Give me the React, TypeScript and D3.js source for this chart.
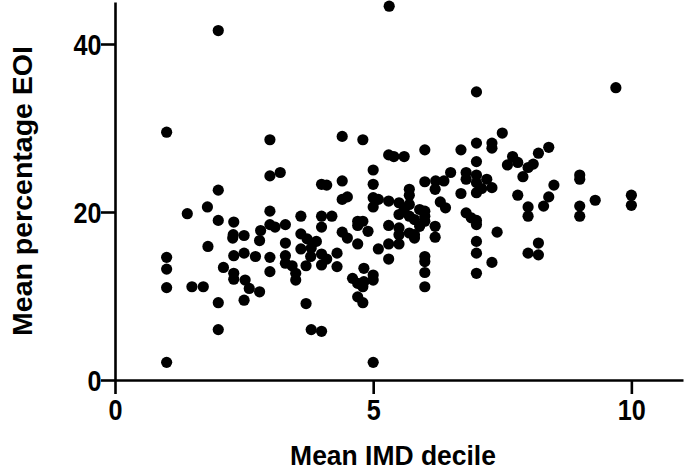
import { useEffect, useRef } from "react";
import * as d3 from "d3";

// mean IMD decile (x) and mean percentage EOI (y)
const imdDecile = [
  1.0, 1.0, 1.0, 1.0, 1.0,
  1.4, 1.49, 1.71, 1.79, 1.8,
  2.0, 2.0, 2.0, 2.0, 2.0, 2.1,
  2.3, 2.29, 2.28, 2.5, 2.3, 2.5, 2.72, 2.3, 2.3, 2.52, 2.6, 2.8, 2.5,
  2.82, 2.8, 3.0, 3.0, 3.2, 3.0, 3.0, 3.1, 3.3, 3.0, 3.0, 3.3, 3.3, 3.3, 3.43, 3.5, 3.5,
  3.6, 3.6, 3.6, 3.72, 3.9, 3.8, 3.79, 3.7, 3.7, 3.8,
  4.0, 4.1, 4.0, 4.2, 4.0, 4.0, 4.1, 4.0, 4.3, 4.3, 4.0,
  4.4, 4.8, 4.4, 4.4, 4.5, 4.7, 4.8, 4.7, 4.4, 4.5, 4.7, 4.9, 4.6, 4.7, 4.82, 4.8, 4.7, 4.8, 4.82,
  5.31, 5.0, 5.0, 5.0, 5.0, 5.0, 5.0, 5.0, 5.1, 5.1,
  5.3, 5.4, 5.6, 5.3, 5.5, 5.3, 5.5, 5.5, 5.5, 5.6, 5.3, 5.5, 5.3,
  5.7, 5.7, 5.7, 5.7, 5.7, 5.8, 5.8, 5.9, 5.8, 5.9,
  6.0, 6.0, 6.0, 6.0, 6.0, 6.0, 6.0, 6.0, 6.0,
  6.21, 6.37, 6.2, 6.5, 6.3, 6.4, 6.2, 6.2,
  6.7, 7.0, 7.0, 7.0, 6.8, 6.8, 7.0, 7.0, 7.0, 6.7, 7.1, 6.8, 6.9, 7.0, 7.0, 7.0, 7.0, 7.0,
  7.3, 7.3, 7.5, 7.2, 7.3, 7.4, 7.3,
  7.7, 7.8, 7.6, 8.1, 8.0, 7.9, 7.8, 8.0, 8.0, 8.0,
  8.2, 8.4, 8.5, 8.4, 8.3, 8.2, 8.2,
  9.0, 9.0, 9.0, 9.0, 9.3, 9.7,
  10.0, 10.0,
];

const eoiPercent = [
  29.5, 14.6, 13.2, 11.0, 2.1,
  19.8, 11.1, 11.1, 20.6, 15.9,
  41.6, 22.6, 19.0, 9.2, 6.0, 13.4,
  18.8, 17.3, 16.9, 17.2, 14.8, 15.1, 14.7, 12.7, 12.0, 11.9, 10.9, 10.5, 9.5,
  17.8, 16.6, 28.6, 24.3, 24.7, 20.1, 18.5, 18.2, 18.5, 14.6, 12.9, 16.3, 14.8, 13.9, 13.6, 12.7, 11.9,
  19.5, 17.4, 15.6, 16.8, 16.5, 15.7, 14.7, 13.6, 9.1, 6.0,
  23.3, 23.2, 19.5, 19.5, 18.2, 15.0, 14.4, 13.7, 15.1, 13.5, 5.8,
  29.0, 28.6, 23.7, 21.5, 21.8, 18.9, 18.9, 18.4, 17.6, 16.9, 16.2, 17.7, 12.1, 11.5, 11.7, 11.1, 9.9, 9.2, 13.3,
  44.5, 25.0, 23.3, 21.7, 20.6, 12.5, 11.9, 2.1, 15.6, 21.5,
  26.8, 26.6, 26.6, 21.3, 21.1, 18.4, 18.1, 17.3, 19.7, 20.3, 16.2, 16.2, 14.4,
  22.7, 22.0, 20.9, 19.5, 17.5, 17.3, 16.9, 20.3, 19.1, 18.3,
  27.4, 23.6, 20.1, 19.5, 18.9, 14.7, 14.1, 12.8, 11.1,
  23.7, 23.7, 22.7, 24.7, 21.2, 20.5, 18.3, 17.0,
  27.4, 34.3, 28.2, 26.0, 24.7, 23.9, 24.4, 23.5, 22.3, 22.2, 22.8, 19.9, 19.3, 19.0, 18.5, 16.5, 15.1, 12.7,
  28.2, 27.6, 29.4, 23.9, 22.9, 17.6, 14.0,
  26.6, 25.9, 25.6, 25.7, 25.3, 24.2, 22.0, 20.6, 19.5, 15.1,
  27.0, 27.7, 23.2, 21.8, 20.7, 16.3, 14.9,
  24.4, 23.9, 20.7, 19.5, 21.4, 34.8,
  22.0, 20.8,
];

const xTicks = [0, 5, 10];
const yTicks = [0, 20, 40];

const W = 685;
const H = 470;
const FONT = "'Liberation Sans', Arial, sans-serif";

export default function App() {
  const axRef = useRef<SVGGElement>(null);

  const x = d3.scaleLinear().domain([0, 11]).range([115, 683]);
  const y = d3.scaleLinear().domain([0, 45]).range([380, 2]);

  useEffect(() => {
    const g = d3.select(axRef.current);
    g.selectAll("*").remove();

    const xa = g
      .append("g")
      .attr("transform", `translate(0,${y(0)})`)
      .call(d3.axisBottom(x).tickValues(xTicks).tickSize(14).tickSizeOuter(0).tickPadding(5));
    const ya = g
      .append("g")
      .attr("transform", `translate(${x(0)},0)`)
      .call(d3.axisLeft(y).tickValues(yTicks).tickSize(14).tickSizeOuter(0).tickPadding(2));

    [xa, ya].forEach((a) => {
      a.selectAll("path, line").attr("stroke", "#000").attr("stroke-width", 2.6);
      a.selectAll("text")
        .attr("fill", "#000")
        .attr("transform", "scale(0.84,1)")
        .style("font-family", FONT)
        .style("font-weight", "bold")
        .style("font-size", "30px");
    });
    ya.selectAll("text").attr("dy", "0.36em");
  }, []);

  return (
    <svg
      width={W}
      height={H}
      style={{ position: "absolute", left: 0, top: 0, background: "#fff" }}
    >
      <g>
        {imdDecile.map((d, i) => (
          <circle key={i} cx={x(d)} cy={y(eoiPercent[i])} r={5.6} fill="#000" />
        ))}
      </g>
      <g ref={axRef} />
      <text
        transform="translate(393,465) scale(0.945,1)"
        textAnchor="middle"
        fontFamily={FONT}
        fontWeight="bold"
        fontSize={28}
      >
        Mean IMD decile
      </text>
      <text
        transform="translate(32,191) rotate(-90)"
        textAnchor="middle"
        fontFamily={FONT}
        fontWeight="bold"
        fontSize={28.5}
      >
        Mean percentage EOI
      </text>
    </svg>
  );
}
